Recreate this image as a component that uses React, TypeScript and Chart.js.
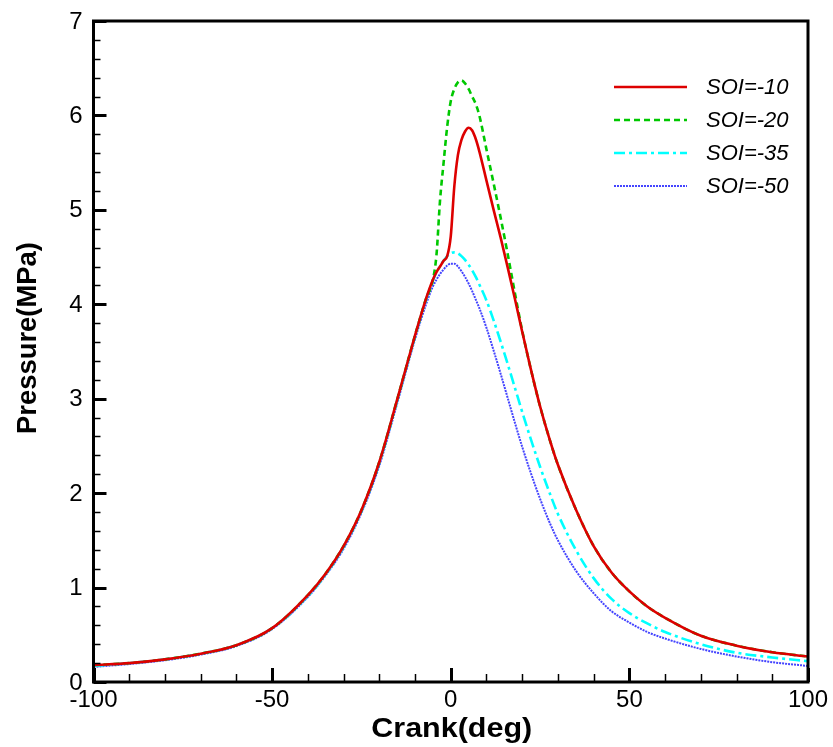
import React, { useEffect, useRef } from "react";
import { Chart, registerables } from "chart.js";

Chart.register(...registerables);

const crank = [
  -100, -90, -80, -70, -60, -50, -40, -35, -30, -25, -20, -15, -10, -7, -5, -4, -3, -2, -1,
  0, 1, 2, 3, 4, 5, 6, 7, 8, 10, 12, 14, 16, 18, 20, 22, 25, 28, 30, 35, 40, 45, 50, 55, 60,
  70, 80, 90, 100,
];

const soi10 = [
  0.18, 0.2, 0.24, 0.3, 0.39, 0.57, 0.92, 1.15, 1.44, 1.82, 2.33, 2.99, 3.67, 4.05, 4.26, 4.34,
  4.4, 4.46, 4.51, 4.72, 5.25, 5.58, 5.74, 5.83, 5.87, 5.84, 5.75, 5.62, 5.31, 5.0, 4.7, 4.38,
  4.05, 3.71, 3.38, 2.92, 2.53, 2.3, 1.83, 1.44, 1.16, 0.96, 0.8, 0.68, 0.49, 0.385, 0.315, 0.27,
];

const soi20 = [
  0.18, 0.2, 0.24, 0.3, 0.39, 0.57, 0.92, 1.15, 1.44, 1.82, 2.33, 2.99, 3.67, 4.05, 4.26, 4.52,
  5.1, 5.5, 5.88, 6.15, 6.28, 6.35, 6.37, 6.34, 6.28, 6.2, 6.12, 6.0, 5.64, 5.28, 4.91, 4.52,
  4.11, 3.72, 3.38, 2.92, 2.53, 2.3, 1.83, 1.44, 1.16, 0.96, 0.8, 0.68, 0.49, 0.385, 0.315, 0.27,
];

const soi35 = [
  0.17, 0.2, 0.24, 0.3, 0.39, 0.57, 0.91, 1.14, 1.43, 1.81, 2.32, 2.98, 3.66, 4.04, 4.25, 4.34,
  4.4, 4.46, 4.51, 4.54, 4.55, 4.54, 4.51, 4.47, 4.42, 4.36, 4.29, 4.21, 4.04, 3.83, 3.6, 3.36,
  3.11, 2.86, 2.62, 2.28, 1.97, 1.78, 1.4, 1.1, 0.88, 0.73, 0.62, 0.53, 0.4, 0.31, 0.26, 0.22,
];

const soi50 = [
  0.16, 0.19, 0.23, 0.29, 0.38, 0.56, 0.9, 1.13, 1.41, 1.79, 2.29, 2.95, 3.63, 3.99, 4.19, 4.26,
  4.32, 4.37, 4.41, 4.43, 4.43, 4.4, 4.35, 4.29, 4.22, 4.14, 4.05, 3.96, 3.75, 3.51, 3.26, 3.0,
  2.74, 2.49, 2.26, 1.94, 1.66, 1.5, 1.18, 0.94, 0.75, 0.63, 0.53, 0.46, 0.35, 0.27, 0.21, 0.17,
];

const seriesNames = ["SOI=-10", "SOI=-20", "SOI=-35", "SOI=-50"];
const seriesValues = [soi10, soi20, soi35, soi50];
const seriesColors = ["#dd0000", "#00c800", "#00ffff", "#4444ff"];
const seriesDashes: number[][] = [[], [6, 4], [11, 4, 3, 4], [2, 1]];
const seriesWidths = [2.6, 2.6, 2.6, 2];

const xMajorTicks = [-100, -50, 0, 50, 100];
const xMinorStep = 10;
const yMajorTicks = [0, 1, 2, 3, 4, 5, 6, 7];
const yMinorStep = 0.2;

const xTitle = "Crank(deg)";
const yTitle = "Pressure(MPa)";

const FONT = '"Liberation Sans", Arial, Helvetica, sans-serif';

function fillStretched(ctx: any, text: string, x: number, y: number, targetWidth: number) {
  const w = ctx.measureText(text).width;
  const s = w > 0 ? targetWidth / w : 1;
  ctx.save();
  ctx.translate(x, y);
  ctx.scale(s, 1);
  ctx.fillText(text, 0, 0);
  ctx.restore();
}

const framePlugin = {
  id: "tecplotFrame",
  afterDraw(chart: any) {
    const { ctx, chartArea: ca } = chart;
    const xs = chart.scales.x;
    const ys = chart.scales.y;
    ctx.save();
    ctx.strokeStyle = "#000";
    ctx.fillStyle = "#000";
    ctx.setLineDash([]);

    // x ticks (inward)
    const xMin = xMajorTicks[0];
    const xMax = xMajorTicks[xMajorTicks.length - 1];
    for (let v = xMin; v <= xMax + 1e-9; v += xMinorStep) {
      const major = xMajorTicks.some((m) => Math.abs(m - v) < 1e-9);
      const px = Math.round(xs.getPixelForValue(v)) + 0.5;
      ctx.lineWidth = major ? 3 : 1.5;
      ctx.beginPath();
      ctx.moveTo(px, ca.bottom);
      ctx.lineTo(px, ca.bottom - (major ? 14 : 8));
      ctx.stroke();
    }
    // y ticks (inward)
    const yMin = yMajorTicks[0];
    const yMax = yMajorTicks[yMajorTicks.length - 1];
    const nY = Math.round((yMax - yMin) / yMinorStep);
    for (let i = 0; i <= nY; i++) {
      const v = yMin + i * yMinorStep;
      const major = yMajorTicks.some((m) => Math.abs(m - v) < 1e-6);
      const py = Math.round(ys.getPixelForValue(v)) + 0.5;
      ctx.lineWidth = major ? 3 : 1.5;
      ctx.beginPath();
      ctx.moveTo(ca.left, py);
      ctx.lineTo(ca.left + (major ? 13 : 7), py);
      ctx.stroke();
    }

    // frame
    ctx.lineWidth = 3;
    ctx.strokeRect(ca.left, ca.top, ca.right - ca.left, ca.bottom - ca.top);

    // tick labels
    ctx.font = `24px ${FONT}`;
    ctx.textAlign = "center";
    ctx.textBaseline = "top";
    xMajorTicks.forEach((v) => {
      ctx.fillText(String(v), xs.getPixelForValue(v), ca.bottom + 6);
    });
    ctx.textAlign = "right";
    ctx.textBaseline = "middle";
    yMajorTicks.forEach((v) => {
      ctx.fillText(String(v), ca.left - 11, ys.getPixelForValue(v) + 1);
    });

    // axis titles
    ctx.font = `bold 28px ${FONT}`;
    ctx.textAlign = "center";
    ctx.textBaseline = "alphabetic";
    fillStretched(ctx, xTitle, (ca.left + ca.right) / 2 + 1, 737, 161);
    ctx.save();
    ctx.translate(36, 338);
    ctx.rotate(-Math.PI / 2);
    fillStretched(ctx, yTitle, 0, 0, 192);
    ctx.restore();

    // legend
    ctx.font = `italic 22px ${FONT}`;
    ctx.textAlign = "left";
    ctx.textBaseline = "middle";
    seriesNames.forEach((name, i) => {
      const ly = 87 + i * 33;
      ctx.strokeStyle = seriesColors[i];
      ctx.lineWidth = seriesWidths[i];
      ctx.setLineDash(seriesDashes[i]);
      ctx.beginPath();
      ctx.moveTo(614, ly);
      ctx.lineTo(687, ly);
      ctx.stroke();
      ctx.setLineDash([]);
      ctx.fillStyle = "#000";
      ctx.fillText(name, 706, ly + 1);
    });
    ctx.restore();
  },
};

export default function App() {
  const canvasRef = useRef<HTMLCanvasElement | null>(null);

  useEffect(() => {
    const canvas = canvasRef.current;
    if (!canvas) return;
    const chart = new Chart(canvas, {
      type: "line",
      data: {
        datasets: seriesNames.map((name, i) => ({
          label: name,
          data: crank.map((c, j) => ({ x: c, y: seriesValues[i][j] })),
          borderColor: seriesColors[i],
          backgroundColor: seriesColors[i],
          borderWidth: seriesWidths[i],
          borderDash: seriesDashes[i],
          pointRadius: 0,
          cubicInterpolationMode: "monotone" as const,
          fill: false,
        })),
      },
      options: {
        responsive: false,
        animation: false,
        devicePixelRatio: 1,
        layout: { padding: { left: 93.5, right: 25, top: 21, bottom: 65 } },
        plugins: { legend: { display: false }, tooltip: { enabled: false } },
        scales: {
          x: { type: "linear", min: -100, max: 100, display: false },
          y: { type: "linear", min: 0, max: 7, display: false },
        },
      },
      plugins: [framePlugin],
    });
    return () => chart.destroy();
  }, []);

  return (
    <div style={{ position: "absolute", left: 0, top: 0, width: 833, height: 747, background: "#fff" }}>
      <canvas ref={canvasRef} width={833} height={747} style={{ display: "block" }} />
    </div>
  );
}
